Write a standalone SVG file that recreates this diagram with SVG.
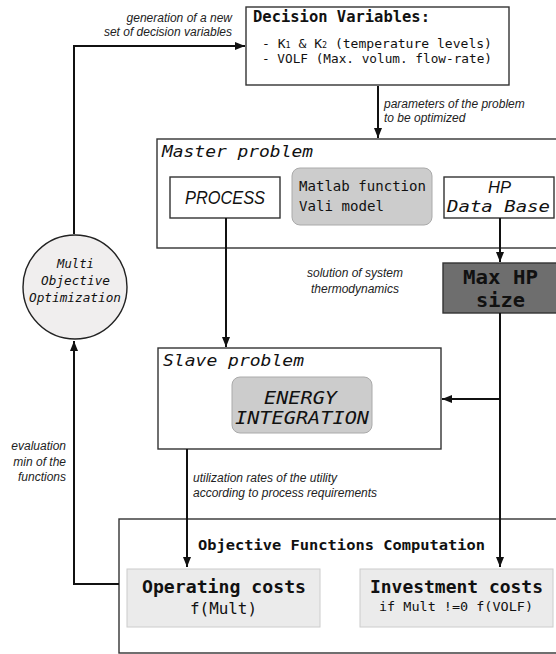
<svg xmlns="http://www.w3.org/2000/svg" width="556" height="654" viewBox="0 0 556 654">
  <style>
    .box { fill: #ffffff; stroke: #333333; stroke-width: 1.4; }
    .soft { fill: #cccccc; stroke: #aaaaaa; stroke-width: 1; }
    .cost { fill: #ebebeb; stroke: #cccccc; stroke-width: 1; }
    .dark { fill: #6e6e6e; stroke: #333333; stroke-width: 1.4; }
    .wire { fill: none; stroke: #111111; stroke-width: 2; }
    .mono { font-family: "DejaVu Sans Mono", "Liberation Mono", monospace; fill: #111111; }
    .monoi { font-family: "DejaVu Sans Mono", "Liberation Mono", monospace; font-style: italic; fill: #111111; }
    .bold { font-weight: bold; }
    .note { font-family: "Liberation Sans", Arial, sans-serif; font-style: italic; font-size: 12px; fill: #222222; }
    .sansi { font-family: "Liberation Sans", Arial, sans-serif; font-style: italic; fill: #111111; }
  </style>
  <defs>
    <marker id="arrow" viewBox="0 0 10 8" refX="10" refY="4" markerWidth="10" markerHeight="8" markerUnits="userSpaceOnUse" orient="auto">
      <path d="M0,0 L10,4 L0,8 Z" fill="#111111"/>
    </marker>
  </defs>

  <!-- decision variables -->
  <g id="decision-variables">
    <rect class="box" x="246" y="7" width="263" height="78"/>
    <text class="mono bold" x="253" y="22" font-size="15" textLength="177" lengthAdjust="spacingAndGlyphs">Decision Variables:</text>
    <text class="mono" x="262" y="48" font-size="12.5" textLength="230" lengthAdjust="spacingAndGlyphs">- K<tspan font-size="8">1</tspan> &amp; K<tspan font-size="8">2</tspan> (temperature levels)</text>
    <text class="mono" x="262" y="63" font-size="12.5" textLength="230" lengthAdjust="spacingAndGlyphs">- VOLF (Max. volum. flow-rate)</text>
  </g>

  <!-- master problem -->
  <g id="master-problem">
    <rect class="box" x="157" y="139" width="410" height="109"/>
    <text class="monoi" x="162" y="157" font-size="16.5" textLength="151" lengthAdjust="spacingAndGlyphs">Master problem</text>
  </g>

  <g id="process">
    <rect class="box" x="170" y="177" width="110" height="41" stroke-width="1"/>
    <text class="sansi" x="185" y="204" font-size="19" textLength="80" lengthAdjust="spacingAndGlyphs">PROCESS</text>
  </g>

  <g id="matlab-function">
    <rect class="soft" x="292" y="168" width="140" height="57" rx="8"/>
    <text class="mono" x="299" y="191" font-size="13.5" textLength="127" lengthAdjust="spacingAndGlyphs" fill="#222">Matlab function</text>
    <text class="mono" x="299" y="211" font-size="13.5" textLength="85" lengthAdjust="spacingAndGlyphs" fill="#222">Vali model</text>
  </g>

  <g id="hp-database">
    <rect class="box" x="444" y="177" width="110" height="41" stroke-width="1"/>
    <text class="sansi" x="488" y="193" font-size="16" textLength="23" lengthAdjust="spacingAndGlyphs">HP</text>
    <text class="monoi" x="447" y="212" font-size="16" textLength="103" lengthAdjust="spacingAndGlyphs">Data Base</text>
  </g>

  <g id="max-hp-size">
    <rect class="dark" x="443" y="263" width="120" height="50"/>
    <text class="mono bold" x="463" y="284" font-size="19.5" textLength="75" lengthAdjust="spacingAndGlyphs">Max HP</text>
    <text class="mono bold" x="476" y="307" font-size="19.5" textLength="49" lengthAdjust="spacingAndGlyphs">size</text>
  </g>

  <!-- slave problem -->
  <g id="slave-problem">
    <rect class="box" x="158" y="348" width="283" height="101"/>
    <text class="monoi" x="163" y="366" font-size="16.5" textLength="141" lengthAdjust="spacingAndGlyphs">Slave problem</text>
  </g>

  <g id="energy-integration">
    <rect class="soft" x="232" y="377" width="140" height="56" rx="8"/>
    <text class="monoi" x="264" y="404" font-size="17" textLength="73" lengthAdjust="spacingAndGlyphs">ENERGY</text>
    <text class="monoi" x="235" y="424" font-size="17" textLength="134" lengthAdjust="spacingAndGlyphs">INTEGRATION</text>
  </g>

  <!-- multi objective optimization -->
  <g id="multi-objective">
    <circle cx="75" cy="287" r="52" fill="#f0eeee" stroke="#222222" stroke-width="1.4"/>
    <text class="monoi" x="57" y="268" font-size="12.5" textLength="37" lengthAdjust="spacingAndGlyphs">Multi</text>
    <text class="monoi" x="41" y="285" font-size="12.5" textLength="69" lengthAdjust="spacingAndGlyphs">Objective</text>
    <text class="monoi" x="29" y="302" font-size="12.5" textLength="92" lengthAdjust="spacingAndGlyphs">Optimization</text>
  </g>

  <!-- objective functions -->
  <g id="objective-functions">
    <rect class="box" x="119" y="519" width="450" height="134"/>
    <text class="mono bold" x="198" y="550" font-size="14.5" textLength="287" lengthAdjust="spacingAndGlyphs">Objective Functions Computation</text>
  </g>

  <g id="operating-costs">
    <rect class="cost" x="127" y="569" width="193" height="58"/>
    <text class="mono bold" x="142" y="593" font-size="17" textLength="164" lengthAdjust="spacingAndGlyphs">Operating costs</text>
    <text class="mono" x="190" y="614" font-size="15" textLength="67" lengthAdjust="spacingAndGlyphs">f(Mult)</text>
  </g>

  <g id="investment-costs">
    <rect class="cost" x="360" y="569" width="193" height="58"/>
    <text class="mono bold" x="370" y="593" font-size="17" textLength="173" lengthAdjust="spacingAndGlyphs">Investment costs</text>
    <text class="mono" x="379" y="611" font-size="12.5" textLength="154" lengthAdjust="spacingAndGlyphs" fill="#222">if Mult !=0 f(VOLF)</text>
  </g>

  <!-- connectors, drawn over the containers they cross -->
  <g id="connectors">
    <path class="wire" d="M119,584 H74 V341" marker-end="url(#arrow)"/>
    <path class="wire" d="M74,234 V46 H245" marker-end="url(#arrow)"/>
    <path class="wire" d="M378,86 V138" marker-end="url(#arrow)" stroke-width="1.5"/>
    <path class="wire" d="M226,218 V347" marker-end="url(#arrow)" stroke-width="1.5"/>
    <path class="wire" d="M500,218 V262" marker-end="url(#arrow)"/>
    <path class="wire" d="M500,313 V567" marker-end="url(#arrow)"/>
    <path class="wire" d="M500,399 H442" marker-end="url(#arrow)"/>
    <path class="wire" d="M187,449 V567" marker-end="url(#arrow)"/>
  </g>

  <!-- connector labels -->
  <g id="labels">
    <text class="note" x="232" y="22" text-anchor="end">generation of a new</text>
    <text class="note" x="232" y="36" text-anchor="end">set of decision variables</text>
    <text class="note" x="384" y="108">parameters of the problem</text>
    <text class="note" x="384" y="122">to be optimized</text>
    <text class="note" x="355" y="277" text-anchor="middle">solution of system</text>
    <text class="note" x="355" y="293" text-anchor="middle">thermodynamics</text>
    <text class="note" x="193" y="482">utilization rates of the utility</text>
    <text class="note" x="193" y="497">according to process requirements</text>
    <text class="note" x="66" y="450" text-anchor="end">evaluation</text>
    <text class="note" x="66" y="466" text-anchor="end">min of the</text>
    <text class="note" x="66" y="481" text-anchor="end">functions</text>
  </g>
</svg>
